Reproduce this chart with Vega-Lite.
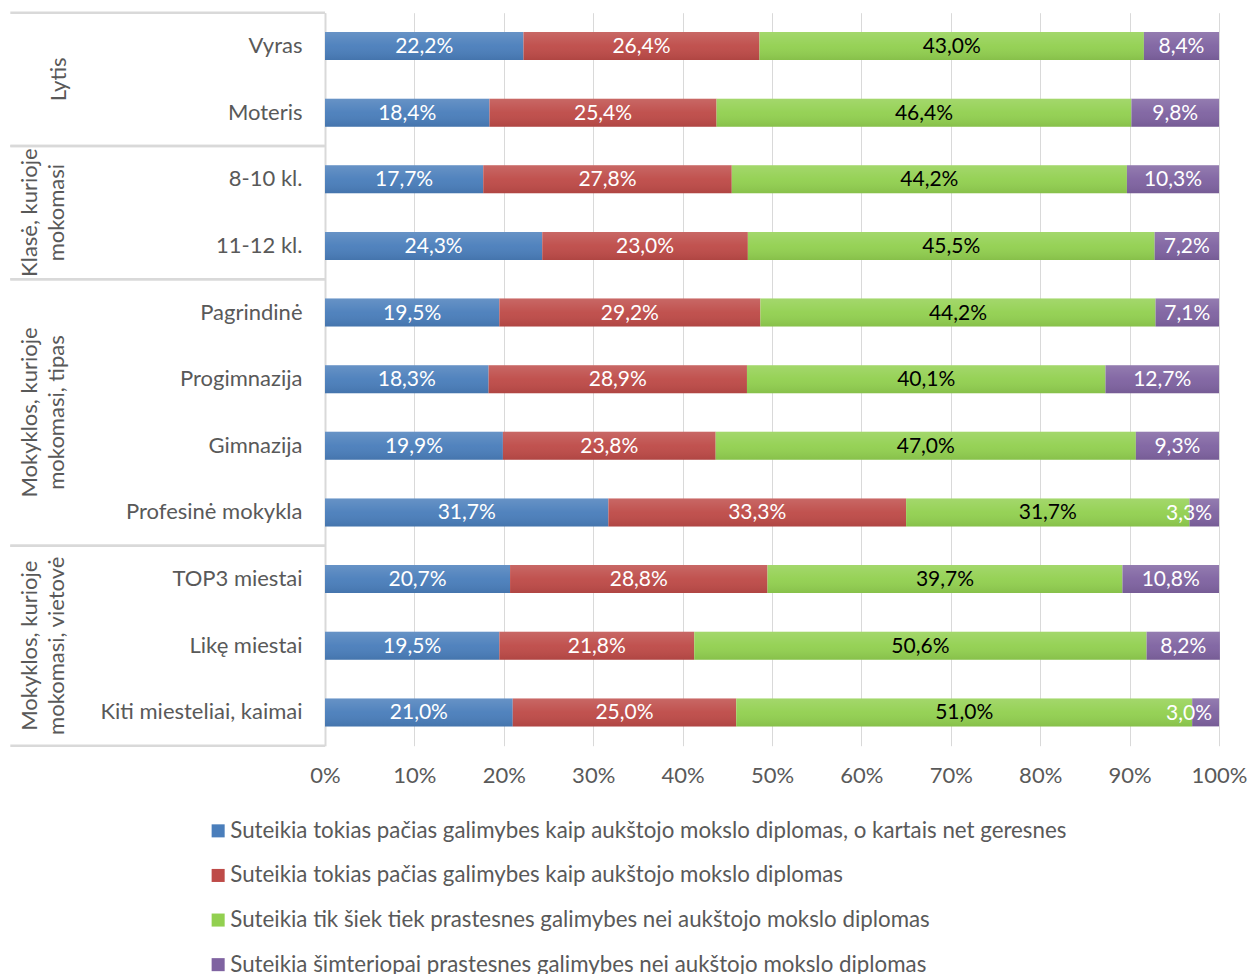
{
  "$schema": "https://vega.github.io/schema/vega-lite/v6.json",
  "width": 894,
  "height": 733,
  "autosize": "none",
  "padding": {"left": 325, "top": 12.7, "right": 29, "bottom": 228.3},
  "config": {
    "locale": {"number": {"decimal": ",", "thousands": " ", "grouping": [3], "currency": ["", "%"]}},
    "view": {"stroke": null},
    "font": "Lato"
  },
  "datasets": {
    "bars": [
      {"c": "Vyras", "o": 1, "s": "Suteikia tokias pačias galimybes kaip aukštojo mokslo diplomas, o kartais net geresnes", "v": 22.2},
      {"c": "Vyras", "o": 2, "s": "Suteikia tokias pačias galimybes kaip aukštojo mokslo diplomas", "v": 26.4},
      {"c": "Vyras", "o": 3, "s": "Suteikia tik šiek tiek prastesnes galimybes nei aukštojo mokslo diplomas", "v": 43.0},
      {"c": "Vyras", "o": 4, "s": "Suteikia šimteriopai prastesnes galimybes nei aukštojo mokslo diplomas", "v": 8.4},
      {"c": "Moteris", "o": 1, "s": "Suteikia tokias pačias galimybes kaip aukštojo mokslo diplomas, o kartais net geresnes", "v": 18.4},
      {"c": "Moteris", "o": 2, "s": "Suteikia tokias pačias galimybes kaip aukštojo mokslo diplomas", "v": 25.4},
      {"c": "Moteris", "o": 3, "s": "Suteikia tik šiek tiek prastesnes galimybes nei aukštojo mokslo diplomas", "v": 46.4},
      {"c": "Moteris", "o": 4, "s": "Suteikia šimteriopai prastesnes galimybes nei aukštojo mokslo diplomas", "v": 9.8},
      {"c": "8-10 kl.", "o": 1, "s": "Suteikia tokias pačias galimybes kaip aukštojo mokslo diplomas, o kartais net geresnes", "v": 17.7},
      {"c": "8-10 kl.", "o": 2, "s": "Suteikia tokias pačias galimybes kaip aukštojo mokslo diplomas", "v": 27.8},
      {"c": "8-10 kl.", "o": 3, "s": "Suteikia tik šiek tiek prastesnes galimybes nei aukštojo mokslo diplomas", "v": 44.2},
      {"c": "8-10 kl.", "o": 4, "s": "Suteikia šimteriopai prastesnes galimybes nei aukštojo mokslo diplomas", "v": 10.3},
      {"c": "11-12 kl.", "o": 1, "s": "Suteikia tokias pačias galimybes kaip aukštojo mokslo diplomas, o kartais net geresnes", "v": 24.3},
      {"c": "11-12 kl.", "o": 2, "s": "Suteikia tokias pačias galimybes kaip aukštojo mokslo diplomas", "v": 23.0},
      {"c": "11-12 kl.", "o": 3, "s": "Suteikia tik šiek tiek prastesnes galimybes nei aukštojo mokslo diplomas", "v": 45.5},
      {"c": "11-12 kl.", "o": 4, "s": "Suteikia šimteriopai prastesnes galimybes nei aukštojo mokslo diplomas", "v": 7.2},
      {"c": "Pagrindinė", "o": 1, "s": "Suteikia tokias pačias galimybes kaip aukštojo mokslo diplomas, o kartais net geresnes", "v": 19.5},
      {"c": "Pagrindinė", "o": 2, "s": "Suteikia tokias pačias galimybes kaip aukštojo mokslo diplomas", "v": 29.2},
      {"c": "Pagrindinė", "o": 3, "s": "Suteikia tik šiek tiek prastesnes galimybes nei aukštojo mokslo diplomas", "v": 44.2},
      {"c": "Pagrindinė", "o": 4, "s": "Suteikia šimteriopai prastesnes galimybes nei aukštojo mokslo diplomas", "v": 7.1},
      {"c": "Progimnazija", "o": 1, "s": "Suteikia tokias pačias galimybes kaip aukštojo mokslo diplomas, o kartais net geresnes", "v": 18.3},
      {"c": "Progimnazija", "o": 2, "s": "Suteikia tokias pačias galimybes kaip aukštojo mokslo diplomas", "v": 28.9},
      {"c": "Progimnazija", "o": 3, "s": "Suteikia tik šiek tiek prastesnes galimybes nei aukštojo mokslo diplomas", "v": 40.1},
      {"c": "Progimnazija", "o": 4, "s": "Suteikia šimteriopai prastesnes galimybes nei aukštojo mokslo diplomas", "v": 12.7},
      {"c": "Gimnazija", "o": 1, "s": "Suteikia tokias pačias galimybes kaip aukštojo mokslo diplomas, o kartais net geresnes", "v": 19.9},
      {"c": "Gimnazija", "o": 2, "s": "Suteikia tokias pačias galimybes kaip aukštojo mokslo diplomas", "v": 23.8},
      {"c": "Gimnazija", "o": 3, "s": "Suteikia tik šiek tiek prastesnes galimybes nei aukštojo mokslo diplomas", "v": 47.0},
      {"c": "Gimnazija", "o": 4, "s": "Suteikia šimteriopai prastesnes galimybes nei aukštojo mokslo diplomas", "v": 9.3},
      {"c": "Profesinė mokykla", "o": 1, "s": "Suteikia tokias pačias galimybes kaip aukštojo mokslo diplomas, o kartais net geresnes", "v": 31.7},
      {"c": "Profesinė mokykla", "o": 2, "s": "Suteikia tokias pačias galimybes kaip aukštojo mokslo diplomas", "v": 33.3},
      {"c": "Profesinė mokykla", "o": 3, "s": "Suteikia tik šiek tiek prastesnes galimybes nei aukštojo mokslo diplomas", "v": 31.7},
      {"c": "Profesinė mokykla", "o": 4, "s": "Suteikia šimteriopai prastesnes galimybes nei aukštojo mokslo diplomas", "v": 3.3},
      {"c": "TOP3 miestai", "o": 1, "s": "Suteikia tokias pačias galimybes kaip aukštojo mokslo diplomas, o kartais net geresnes", "v": 20.7},
      {"c": "TOP3 miestai", "o": 2, "s": "Suteikia tokias pačias galimybes kaip aukštojo mokslo diplomas", "v": 28.8},
      {"c": "TOP3 miestai", "o": 3, "s": "Suteikia tik šiek tiek prastesnes galimybes nei aukštojo mokslo diplomas", "v": 39.7},
      {"c": "TOP3 miestai", "o": 4, "s": "Suteikia šimteriopai prastesnes galimybes nei aukštojo mokslo diplomas", "v": 10.8},
      {"c": "Likę miestai", "o": 1, "s": "Suteikia tokias pačias galimybes kaip aukštojo mokslo diplomas, o kartais net geresnes", "v": 19.5},
      {"c": "Likę miestai", "o": 2, "s": "Suteikia tokias pačias galimybes kaip aukštojo mokslo diplomas", "v": 21.8},
      {"c": "Likę miestai", "o": 3, "s": "Suteikia tik šiek tiek prastesnes galimybes nei aukštojo mokslo diplomas", "v": 50.6},
      {"c": "Likę miestai", "o": 4, "s": "Suteikia šimteriopai prastesnes galimybes nei aukštojo mokslo diplomas", "v": 8.2},
      {"c": "Kiti miesteliai, kaimai", "o": 1, "s": "Suteikia tokias pačias galimybes kaip aukštojo mokslo diplomas, o kartais net geresnes", "v": 21.0},
      {"c": "Kiti miesteliai, kaimai", "o": 2, "s": "Suteikia tokias pačias galimybes kaip aukštojo mokslo diplomas", "v": 25.0},
      {"c": "Kiti miesteliai, kaimai", "o": 3, "s": "Suteikia tik šiek tiek prastesnes galimybes nei aukštojo mokslo diplomas", "v": 51.0},
      {"c": "Kiti miesteliai, kaimai", "o": 4, "s": "Suteikia šimteriopai prastesnes galimybes nei aukštojo mokslo diplomas", "v": 3.0}
    ],
    "groups": [
      {"g": ["Lytis"], "start": 0, "end": 2, "mid": 1},
      {"g": ["Klasė, kurioje", "mokomasi"], "start": 2, "end": 4, "mid": 3},
      {"g": ["Mokyklos, kurioje", "mokomasi, tipas"], "start": 4, "end": 8, "mid": 6},
      {"g": ["Mokyklos, kurioje", "mokomasi, vietovė"], "start": 8, "end": 11, "mid": 9.5}
    ]
  },
  "layer": [
    {
      "layer": [
        {
          "data": {"name": "bars"},
          "mark": {"type": "bar"},
          "encoding": {
            "y": {
              "field": "c", "type": "nominal", "sort": null,
              "scale": {"paddingInner": 0.58, "paddingOuter": 0.29},
              "axis": {"title": null, "ticks": false, "domain": true, "domainColor": "#d9d9d9", "domainWidth": 2, "labelFontSize": 22, "labelColor": "#595959", "labelPadding": 23, "labelFont": "Lato", "labelLimit": 400}
            },
            "x": {
              "field": "v", "type": "quantitative", "stack": "zero",
              "scale": {"domain": [0, 100], "nice": false},
              "axis": {"title": null, "ticks": false, "domain": false, "grid": true, "gridColor": "#d9d9d9", "gridWidth": 1, "values": [0, 10, 20, 30, 40, 50, 60, 70, 80, 90, 100], "format": "$.0f", "labelFontSize": 22, "labelColor": "#595959", "labelPadding": 20, "labelFlush": false, "labelFont": "Lato"}
            },
            "color": {
              "field": "s", "type": "nominal",
              "scale": {
                "domain": [
                  "Suteikia tokias pačias galimybes kaip aukštojo mokslo diplomas, o kartais net geresnes",
                  "Suteikia tokias pačias galimybes kaip aukštojo mokslo diplomas",
                  "Suteikia tik šiek tiek prastesnes galimybes nei aukštojo mokslo diplomas",
                  "Suteikia šimteriopai prastesnes galimybes nei aukštojo mokslo diplomas"
                ],
                "range": ["#4a7ebb", "#be4b48", "#92d050", "#7f63a1"]
              },
              "legend": {"title": null, "orient": "none", "legendX": -118, "legendY": 807, "direction": "vertical", "symbolType": "square", "symbolSize": 170, "symbolStrokeWidth": 0, "labelOffset": 1, "labelFontSize": 22.3, "labelColor": "#595959", "labelFont": "Lato", "labelLimit": 1000, "rowPadding": 21.6}
            },
            "order": {"field": "o"}
          }
        },
        {
          "data": {"name": "bars"},
          "mark": {
            "type": "bar",
            "fill": {"gradient": "linear", "x1": 0, "y1": 0, "x2": 0, "y2": 1, "stops": [{"offset": 0, "color": "rgba(255,255,255,0.16)"}, {"offset": 0.5, "color": "rgba(255,255,255,0.04)"}, {"offset": 1, "color": "rgba(0,0,0,0.08)"}]}
          },
          "encoding": {
            "y": {"field": "c", "type": "nominal", "sort": null},
            "x": {"field": "v", "type": "quantitative", "stack": "zero", "scale": {"domain": [0, 100], "nice": false}},
            "detail": {"field": "s"},
            "order": {"field": "o"}
          }
        },
        {
          "data": {"name": "bars"},
          "transform": [{"filter": "!(datum.o === 4 && datum.v < 5)"}],
          "mark": {"type": "text", "fontSize": 21, "font": "Lato", "dy": 1},
          "encoding": {
            "y": {"field": "c", "type": "nominal", "sort": null},
            "x": {"field": "v", "type": "quantitative", "stack": "zero", "bandPosition": 0.5, "scale": {"domain": [0, 100], "nice": false}},
            "detail": {"field": "s"},
            "order": {"field": "o"},
            "text": {"field": "v", "type": "quantitative", "format": "$.1f"},
            "color": {"condition": {"test": "datum.o === 3", "value": "#000000"}, "value": "#ffffff"}
          }
        },
        {
          "data": {"name": "bars"},
          "transform": [
            {"stack": "v", "groupby": ["c"], "sort": [{"field": "o"}], "as": ["v0", "v1"]},
            {"filter": "datum.o === 4 && datum.v < 5"}
          ],
          "mark": {"type": "text", "fontSize": 21, "font": "Lato", "align": "right", "dx": -7, "dy": 2, "color": "#ffffff"},
          "encoding": {
            "y": {"field": "c", "type": "nominal", "sort": null},
            "x": {"field": "v1", "type": "quantitative", "scale": {"domain": [0, 100], "nice": false}},
            "text": {"field": "v", "type": "quantitative", "format": "$.1f"}
          }
        }
      ]
    },
    {
      "layer": [
        {
          "data": {"name": "groups"},
          "mark": {"type": "rule", "color": "#d9d9d9", "strokeWidth": 2.5},
          "encoding": {
            "y": {"field": "start", "type": "quantitative", "scale": {"domain": [0, 11], "reverse": true, "nice": false, "zero": false}, "axis": null},
            "x": {"datum": -35.2, "type": "quantitative", "scale": {"domain": [0, 100], "nice": false}},
            "x2": {"datum": 0}
          }
        },
        {
          "data": {"name": "groups"},
          "mark": {"type": "rule", "color": "#d9d9d9", "strokeWidth": 2.5},
          "encoding": {
            "y": {"field": "end", "type": "quantitative", "scale": {"domain": [0, 11], "reverse": true, "nice": false, "zero": false}, "axis": null},
            "x": {"datum": -35.2, "type": "quantitative", "scale": {"domain": [0, 100], "nice": false}},
            "x2": {"datum": 0}
          }
        },
        {
          "data": {"name": "groups"},
          "transform": [{"filter": "datum.g.length === 1"}],
          "mark": {"type": "text", "angle": 270, "align": "center", "baseline": "bottom", "fontSize": 22, "color": "#595959", "lineHeight": 27, "font": "Lato"},
          "encoding": {
            "y": {"field": "mid", "type": "quantitative", "scale": {"domain": [0, 11], "reverse": true, "nice": false, "zero": false}, "axis": null},
            "x": {"datum": -28.4, "type": "quantitative", "scale": {"domain": [0, 100], "nice": false}},
            "text": {"field": "g"}
          }
        },
        {
          "data": {"name": "groups"},
          "transform": [{"filter": "datum.g.length > 1"}],
          "mark": {"type": "text", "angle": 270, "align": "center", "baseline": "bottom", "fontSize": 22, "color": "#595959", "lineHeight": 27, "font": "Lato"},
          "encoding": {
            "y": {"field": "mid", "type": "quantitative", "scale": {"domain": [0, 11], "reverse": true, "nice": false, "zero": false}, "axis": null},
            "x": {"datum": -31.7, "type": "quantitative", "scale": {"domain": [0, 100], "nice": false}},
            "text": {"field": "g"}
          }
        }
      ]
    }
  ],
  "resolve": {"scale": {"y": "independent"}}
}
